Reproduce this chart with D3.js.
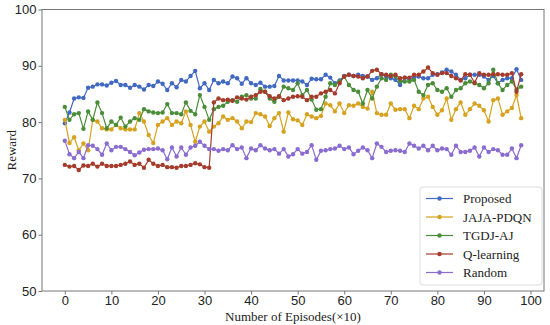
<!DOCTYPE html>
<html>
<head>
<meta charset="utf-8">
<script src="https://cdn.jsdelivr.net/npm/d3@7"></script>
<style>
  body { margin: 0; background: #fff; }
  svg { font-family: 'Liberation Serif', 'Times New Roman', serif; }
  .axis text { font-size: 13px; fill: #222; }
  .axis path, .axis line { stroke: #777; }
</style>
</head>
<body>
<svg id="chart" width="550" height="325"></svg>
<script>
// episodes 0..98 (x10)
const episodes = d3.range(0, 99);
const xTicks = [0, 10, 20, 30, 40, 50, 60, 70, 80, 90, 100];
const yTicks = [50, 60, 70, 80, 90, 100];
const seriesNames = ['Proposed', 'JAJA-PDQN', 'TGDJ-AJ', 'Q-learning', 'Random'];
const seriesColors = ['#4169c2', '#d6a21f', '#4a8d38', '#a53b2a', '#8a6cd0'];

const proposed = [
  79.8, 81.7, 84.2, 84.4, 84.3, 86.1, 86.3, 86.7, 86.7, 86.5, 87.0, 87.3, 86.6, 86.6, 86.1, 86.6, 86.3, 85.8, 86.6, 86.4,
  87.2, 86.8, 85.7, 86.9, 86.2, 87.5, 87.2, 88.2, 89.1, 86.0, 86.9, 85.7, 87.5, 86.9, 87.2, 86.9, 88.1, 87.8, 86.8, 87.8,
  86.9, 86.6, 87.0, 86.3, 86.3, 86.4, 88.2, 87.4, 87.4, 87.4, 87.4, 87.2, 86.6, 87.7, 87.6, 87.6, 88.4, 87.9, 86.9, 87.4,
  88.2, 88.4, 88.2, 88.4, 88.2, 88.1, 87.5, 87.8, 88.5, 88.1, 87.8, 87.5, 86.6, 87.9, 87.5, 87.9, 88.1, 87.8, 87.8, 88.4,
  88.5, 88.8, 89.3, 89.0, 88.4, 87.5, 87.8, 88.4, 88.4, 88.4, 88.1, 87.5, 88.2, 86.9, 87.5, 87.8, 87.8, 89.4, 87.5
];
const jajaPdqn = [
  80.4, 76.3, 77.3, 75.0, 76.2, 75.0, 80.4, 80.1, 78.9, 78.7, 78.7, 79.5, 78.9, 78.7, 78.7, 78.7, 81.6, 80.1, 77.7, 76.3,
  79.5, 80.1, 80.7, 79.5, 80.1, 79.8, 81.9, 79.5, 76.5, 79.2, 80.1, 78.3, 79.2, 79.8, 81.0, 80.4, 80.7, 80.1, 78.9, 80.1,
  80.0, 81.6, 81.4, 81.0, 79.3, 80.7, 81.6, 78.3, 81.7, 80.5, 80.3, 79.5, 81.4, 81.0, 80.7, 81.1, 83.3, 83.0, 81.9, 83.3,
  81.6, 83.0, 82.9, 83.3, 82.7, 82.4, 85.4, 81.6, 81.3, 81.3, 83.3, 82.2, 82.3, 82.3, 80.7, 82.9, 82.3, 84.2, 84.5, 82.7,
  81.3, 82.1, 84.2, 80.4, 82.3, 83.5, 81.3, 82.3, 83.3, 82.9, 82.1, 80.1, 83.9, 84.2, 81.3, 81.9, 82.5, 84.8, 80.7
];
const tgdjAj = [
  82.7, 80.4, 81.4, 81.6, 78.8, 81.9, 80.4, 83.5, 81.6, 78.9, 80.1, 79.5, 80.8, 79.2, 80.1, 80.7, 80.4, 82.3, 81.9, 81.7,
  81.6, 81.7, 83.2, 81.6, 81.6, 81.4, 83.5, 82.0, 81.4, 84.8, 82.7, 80.4, 82.3, 82.7, 82.9, 83.6, 83.9, 83.6, 84.5, 84.8,
  84.2, 84.2, 85.9, 85.4, 84.2, 83.6, 84.5, 86.3, 86.0, 85.7, 86.9, 84.8, 85.7, 84.0, 82.2, 82.3, 84.5, 86.9, 86.6, 87.2,
  88.1, 86.6, 85.7, 85.4, 83.3, 85.7, 84.2, 86.3, 87.8, 87.5, 88.4, 88.1, 87.2, 87.2, 87.2, 87.5, 85.4, 84.8, 86.6, 86.9,
  85.7, 85.4, 86.0, 84.5, 85.7, 86.0, 86.9, 87.2, 86.9, 86.6, 86.0, 86.9, 89.3, 86.9, 85.7, 86.6, 87.2, 85.8, 86.3
];
const qLearning = [
  72.4, 72.1, 72.2, 71.5, 72.3, 72.2, 72.6, 72.1, 72.6, 72.2, 72.2, 72.2, 72.4, 72.6, 73.0, 72.4, 72.6, 71.9, 73.3, 72.6,
  72.2, 72.4, 72.0, 72.0, 71.9, 72.2, 72.2, 72.4, 72.7, 72.5, 72.0, 71.9, 83.5, 84.2, 83.9, 84.0, 83.8, 84.4, 84.2, 84.0,
  84.5, 84.8, 85.4, 85.4, 84.6, 84.2, 84.6, 83.9, 84.2, 84.5, 84.6, 84.5, 83.9, 84.5, 84.5, 85.1, 85.4, 85.7, 85.1, 86.9,
  88.1, 88.4, 88.2, 88.1, 87.8, 88.1, 89.1, 89.3, 88.5, 88.4, 88.2, 88.4, 87.8, 87.9, 87.9, 88.4, 88.4, 89.0, 89.7, 88.7,
  88.4, 88.7, 88.7, 88.2, 87.8, 87.4, 88.5, 88.4, 87.0, 88.7, 88.4, 88.4, 88.5, 88.5, 88.4, 88.4, 88.7, 85.4, 88.5
];
const random = [
  76.7, 74.3, 73.6, 74.7, 73.6, 75.9, 75.8, 75.2, 74.2, 76.2, 75.0, 75.6, 75.6, 75.2, 74.7, 74.1, 74.6, 75.1, 75.2, 75.2,
  75.3, 75.0, 73.4, 75.5, 73.9, 75.5, 74.2, 75.5, 75.8, 76.5, 75.8, 75.2, 75.2, 74.9, 75.2, 75.0, 75.9, 75.2, 75.5, 73.6,
  75.3, 75.0, 75.9, 75.3, 75.0, 75.2, 74.4, 75.2, 73.9, 74.3, 75.2, 74.4, 74.7, 75.9, 73.3, 74.9, 75.0, 75.2, 75.3, 75.8,
  75.2, 75.5, 74.3, 74.9, 75.5, 75.0, 73.6, 76.2, 75.6, 74.7, 74.9, 75.0, 74.9, 74.7, 76.2, 75.8, 75.3, 75.8, 75.0, 75.8,
  75.0, 75.3, 75.2, 74.2, 75.8, 74.7, 74.7, 74.9, 75.5, 73.9, 75.5, 74.7, 75.2, 75.0, 74.2, 74.2, 75.3, 73.6, 75.9
];
const allSeries = [proposed, jajaPdqn, tgdjAj, qLearning, random];

const margin = { left: 42, right: 6, top: 9.5, bottom: 34 };
const width = 550, height = 325;

const svg = d3.select('svg#chart');

var x = d3
  .scaleLinear()
  .domain([-4.9, 102.9])
  .range([margin.left, width - margin.right]);

var y = d3
  .scaleLinear()
  .domain([50, 100])
  .range([height - margin.bottom, margin.top]);

// frame
svg
  .append('rect')
  .attr('x', x.range()[0])
  .attr('y', y.range()[1])
  .attr('width', x.range()[1] - x.range()[0])
  .attr('height', y.range()[0] - y.range()[1])
  .style('fill', 'none')
  .style('stroke', '#777')
  .style('stroke-width', 1);

svg
  .append('g')
  .attr('class', 'axis')
  .attr('transform', `translate(0,${y.range()[0]})`)
  .call(d3.axisBottom(x).tickValues(xTicks).tickSize(3.5).tickPadding(1).tickSizeOuter(0))
  .call(g => g.select('.domain').remove());

svg
  .append('g')
  .attr('class', 'axis')
  .attr('transform', `translate(${x.range()[0]},0)`)
  .call(d3.axisLeft(y).tickValues(yTicks).tickSize(3.5).tickPadding(2).tickSizeOuter(0))
  .call(g => g.select('.domain').remove());

svg
  .append('text')
  .attr('x', (x.range()[0] + x.range()[1]) / 2)
  .attr('y', 321)
  .attr('text-anchor', 'middle')
  .style('font-size', '13px')
  .style('fill', '#222')
  .text('Number of Episodes(×10)');

svg
  .append('text')
  .attr('transform', `translate(16,${(y.range()[0] + y.range()[1]) / 2}) rotate(-90)`)
  .attr('text-anchor', 'middle')
  .style('font-size', '13px')
  .style('fill', '#222')
  .text('Reward');

var line = d3
  .line()
  .x((d, i) => x(episodes[i]))
  .y(d => y(d));

var plot = svg.append('g').attr('class', 'series');

allSeries.forEach(function(values, k) {
  var g = plot.append('g');
  g.append('path')
    .datum(values)
    .attr('d', line)
    .style('fill', 'none')
    .style('stroke', seriesColors[k])
    .style('stroke-width', 1.2);
  g.selectAll('circle')
    .data(values)
    .enter()
    .append('circle')
    .attr('cx', (d, i) => x(episodes[i]))
    .attr('cy', d => y(d))
    .attr('r', 2.2)
    .style('fill', seriesColors[k]);
});

// legend
var legend = svg.append('g').attr('class', 'legend');
legend
  .append('rect')
  .attr('x', 420)
  .attr('y', 187)
  .attr('width', 122)
  .attr('height', 98)
  .attr('rx', 3)
  .style('fill', 'white')
  .style('fill-opacity', 0.85)
  .style('stroke', '#ddd');

seriesNames.forEach(function(name, k) {
  var ly = 198.5 + k * 18.5;
  legend.append('line')
    .attr('x1', 426).attr('x2', 453)
    .attr('y1', ly).attr('y2', ly)
    .style('stroke', seriesColors[k])
    .style('stroke-width', 1.2);
  legend.append('circle')
    .attr('cx', 439.5).attr('cy', ly).attr('r', 2.2)
    .style('fill', seriesColors[k]);
  legend.append('text')
    .attr('x', 463)
    .attr('y', ly + 4.5)
    .style('font-size', '13px')
    .style('fill', '#222')
    .text(name);
});
</script>
</body>
</html>
